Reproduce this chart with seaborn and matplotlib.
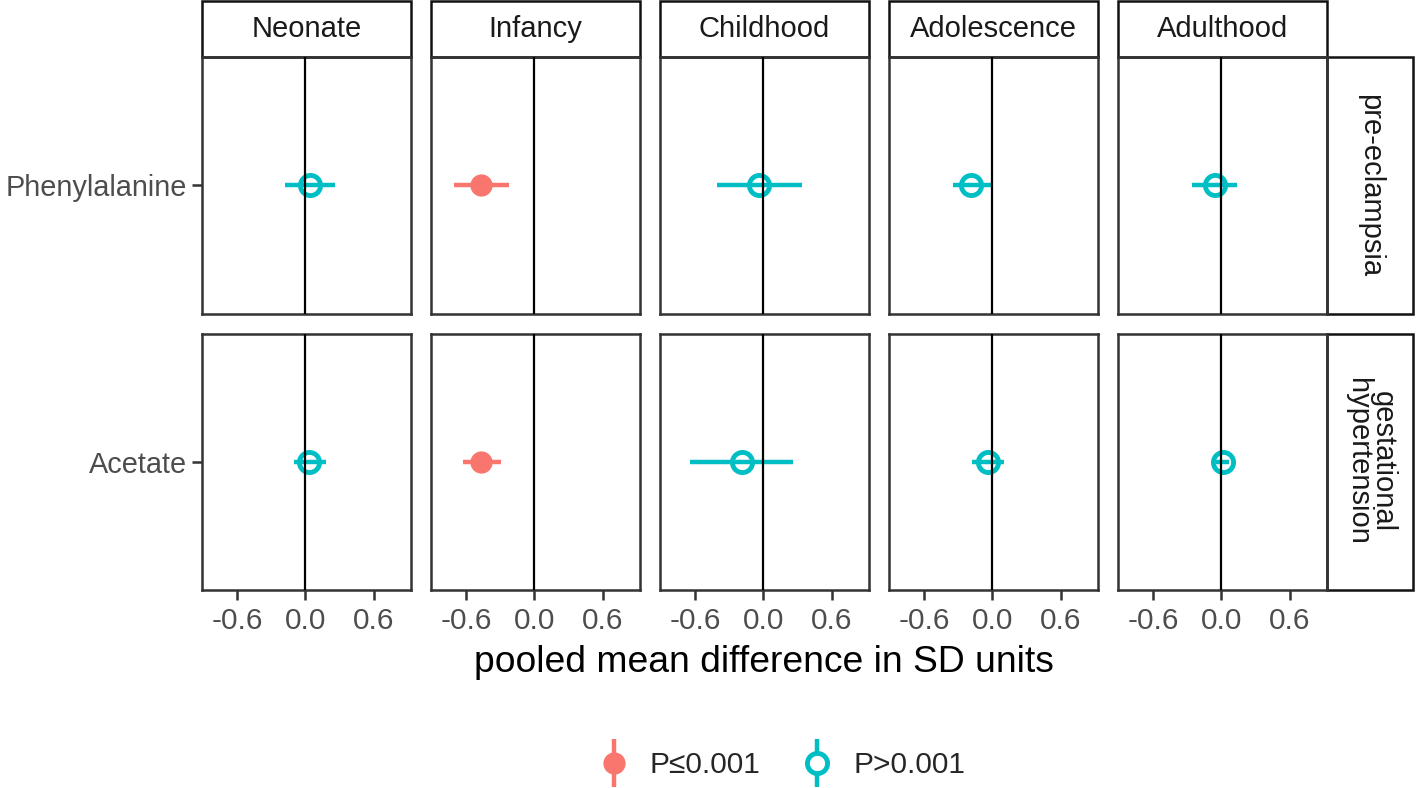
import pandas as pd
import matplotlib
matplotlib.use('Agg')
import matplotlib.pyplot as plt
from matplotlib.patches import Rectangle
from matplotlib.lines import Line2D
from matplotlib.legend_handler import HandlerTuple
import seaborn as sns

sns.set_style('white')
plt.rcParams['font.family'] = ['Liberation Sans', 'DejaVu Sans']

stages = ['Neonate', 'Infancy', 'Childhood', 'Adolescence', 'Adulthood']
exposures = ['pre-eclampsia', 'gestational\nhypertension']
metabolites = ['Phenylalanine', 'Acetate']

# pre-eclampsia -> Phenylalanine
phe_mean = [0.04, -0.47, -0.04, -0.19, -0.06]
phe_lo = [-0.18, -0.71, -0.41, -0.35, -0.26]
phe_hi = [0.26, -0.22, 0.34, 0.00, 0.14]
phe_p = ['P>0.001', 'P≤0.001', 'P>0.001', 'P>0.001', 'P>0.001']

# gestational hypertension -> Acetate
ace_mean = [0.035, -0.47, -0.19, -0.04, 0.01]
ace_lo = [-0.10, -0.63, -0.65, -0.18, -0.05]
ace_hi = [0.18, -0.29, 0.26, 0.10, 0.07]
ace_p = ['P>0.001', 'P≤0.001', 'P>0.001', 'P>0.001', 'P>0.001']

pal = {'P≤0.001': '#F8766D', 'P>0.001': '#00BFC4'}

rows = []
for exp, met, m, lo, hi, p in [(exposures[0], metabolites[0], phe_mean, phe_lo, phe_hi, phe_p),
                               (exposures[1], metabolites[1], ace_mean, ace_lo, ace_hi, ace_p)]:
    for i, st in enumerate(stages):
        rows.append({'exposure': exp, 'metabolite': met, 'stage': st,
                     'mean': m[i], 'lo': lo[i], 'hi': hi[i], 'pgroup': p[i]})
df = pd.DataFrame(rows)


def pointrange(data, **kws):
    ax = plt.gca()
    for _, r in data.iterrows():
        c = pal[r['pgroup']]
        ax.hlines(0, r['lo'], r['hi'], color=c, lw=3.2, zorder=2)
        if r['pgroup'] == 'P≤0.001':
            ax.plot(r['mean'], 0, 'o', ms=16, mfc=c, mec=c, mew=0, zorder=3)
        else:
            ax.plot(r['mean'], 0, 'o', ms=14.5, mfc='none', mec=c, mew=3.5, zorder=3)
    ax.axvline(0, color='black', lw=1.6, zorder=4)


g = sns.FacetGrid(df, row='exposure', col='stage', row_order=exposures, col_order=stages,
                  sharex=True, sharey=False, height=3, aspect=0.8)
g.map_dataframe(pointrange)
g.set_titles('')
g.set_axis_labels('', '')

fig = g.figure
fig.set_size_inches(14.17, 7.88)
W, H = 1417.0, 788.0
pw, ph = 209.0, 256.5
fig.subplots_adjust(left=202 / W, right=1327 / W, top=1 - 57 / H, bottom=1 - 590 / H,
                    wspace=20 / pw, hspace=20 / ph)

for i in range(2):
    for j in range(5):
        ax = g.axes[i, j]
        ax.set_xlim(-0.91, 0.93)
        ax.set_ylim(-1, 1)
        for s in ax.spines.values():
            s.set_visible(True)
            s.set_color('#333333')
            s.set_linewidth(1.8)
        ax.set_xticks([-0.6, 0.0, 0.6])
        ax.set_xticklabels(['-0.6', '0.0', '0.6'])
        ax.set_yticks([0])
        ax.set_yticklabels([metabolites[i]])
        ax.tick_params(axis='both', length=7, width=1.8, color='#333333',
                       labelsize=21.5, labelcolor='#4D4D4D', pad=5)
        ax.tick_params(axis='y', labelsize=20.8, pad=3.5)
        ax.tick_params(left=(j == 0), labelleft=(j == 0),
                       bottom=(i == 1), labelbottom=(i == 1))

# strips on top
for j, st in enumerate(stages):
    ax = g.axes[0, j]
    sh = 56 / ph
    ax.add_patch(Rectangle((0, 1), 1, sh, transform=ax.transAxes, clip_on=False,
                           fc='white', ec='#111111', lw=1.8))
    ax.text(0.5, 1 + sh / 2, st, transform=ax.transAxes, ha='center', va='center',
            fontsize=21, color='#1A1A1A')

# strips on the right
for i, ex in enumerate(exposures):
    ax = g.axes[i, 4]
    sw = 86 / pw
    ax.add_patch(Rectangle((1, 0), sw, 1, transform=ax.transAxes, clip_on=False,
                           fc='white', ec='#111111', lw=1.8))
    ax.text(1 + sw / 2, 0.5, ex, transform=ax.transAxes, ha='center', va='center',
            rotation=-90, fontsize=21, color='#1A1A1A', linespacing=0.85)

fig.text(764 / W, 1 - 663 / H, 'pooled mean difference in SD units', ha='center', va='center',
         fontsize=26.8, color='black')

handles = []
for k in ['P≤0.001', 'P>0.001']:
    c = pal[k]
    vline = Line2D([], [], marker='|', ms=34, mew=3.2, color=c, ls='none')
    if k == 'P≤0.001':
        pt = Line2D([], [], marker='o', ms=16, mfc=c, mec=c, mew=0, ls='none')
    else:
        pt = Line2D([], [], marker='o', ms=14.5, mfc='white', mec=c, mew=3.5, ls='none')
    handles.append((vline, pt))
fig.legend(handles, ['P≤0.001', 'P>0.001'], handler_map={tuple: HandlerTuple(ndivide=1)},
           loc='center', bbox_to_anchor=(779 / W, 1 - 765 / H), ncol=2, frameon=False,
           fontsize=21.5, handlelength=1.4, handletextpad=0.5, columnspacing=1.2)

fig.savefig('out.png', dpi=100)
